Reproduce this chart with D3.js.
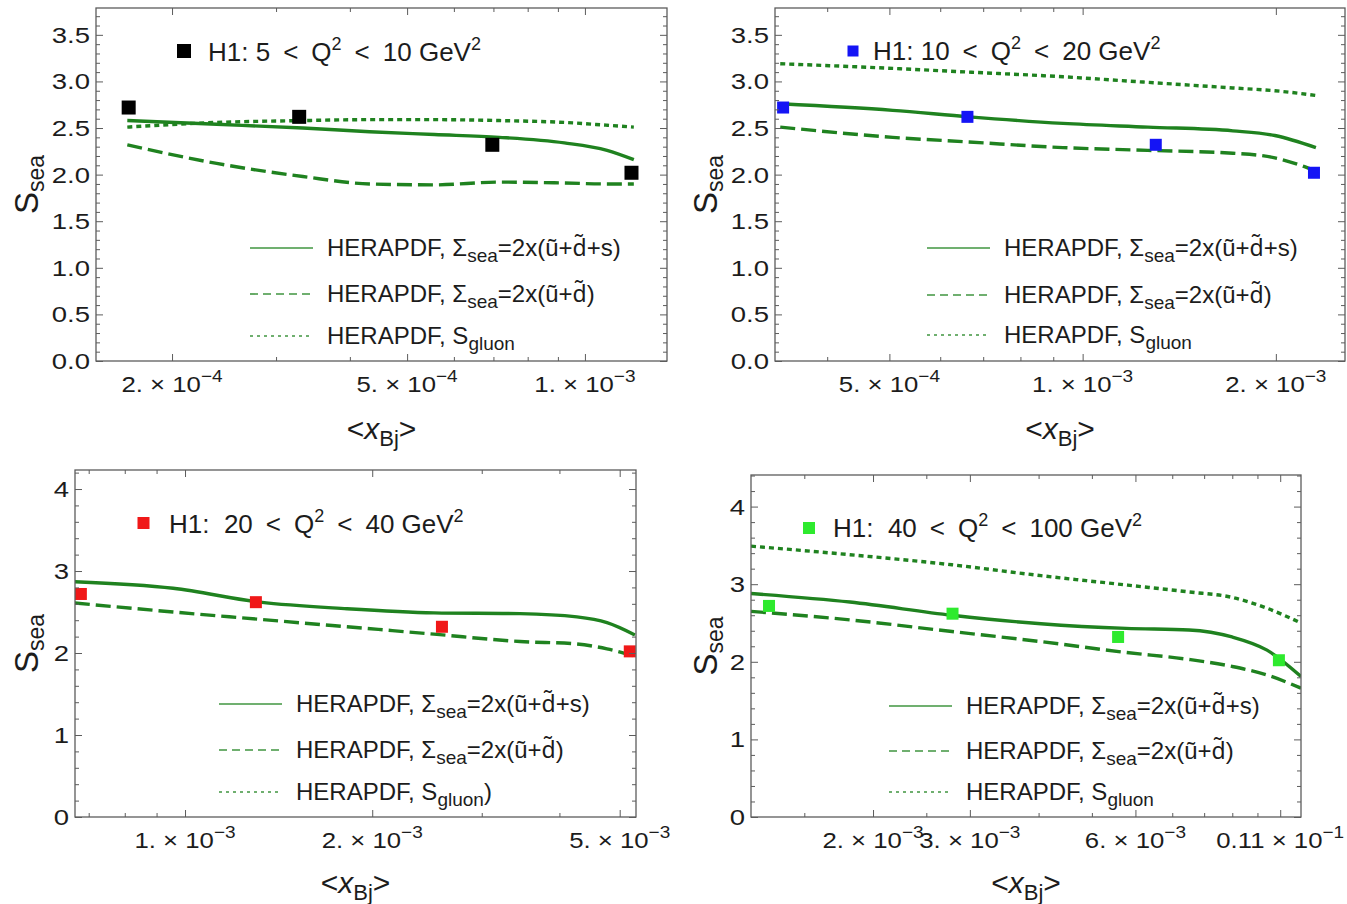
<!DOCTYPE html>
<html>
<head>
<meta charset="utf-8">
<script src="https://cdn.jsdelivr.net/npm/d3@7"></script>
<style>
  body { margin: 0; background: #fff; }
  svg { display: block; font-family: "Liberation Sans", Arial, Helvetica, sans-serif; }
  text { white-space: pre; }
</style>
</head>
<body>
<svg id="chart" width="1347" height="904"></svg>
<script>
// H1 points, same S_sea values in every Q^2 bin
const h1S = [2.72, 2.62, 2.32, 2.02];

// <x_Bj> of the H1 points, one array per Q^2 bin
const bin1X = [1.689e-4, 3.283e-4, 6.97e-4, 1.199e-3];
const bin2X = [3.415e-4, 6.615e-4, 1.300e-3, 2.293e-3];
const bin3X = [6.80e-4, 1.300e-3, 2.589e-3, 5.19e-3];
const bin4X = [1.294e-3, 2.79e-3, 5.58e-3, 1.094e-2];

// HERAPDF curves
const bin1CurveX = [1.68e-4, 2.38e-4, 3.33e-4, 4.32e-4, 5.56e-4, 7.16e-4, 9.23e-4, 1.09e-3, 1.21e-3];
const bin1Full   = [2.58, 2.54, 2.50, 2.46, 2.43, 2.40, 2.34, 2.26, 2.16];
const bin1Light  = [2.32, 2.12, 1.98, 1.90, 1.89, 1.92, 1.91, 1.90, 1.90];
const bin1Gluon  = [2.51, 2.56, 2.58, 2.59, 2.59, 2.58, 2.56, 2.53, 2.51];

const bin2CurveX = [3.38e-4, 5.06e-4, 6.65e-4, 9.32e-4, 1.264e-3, 1.714e-3, 1.993e-3, 2.309e-3];
const bin2Full   = [2.76, 2.69, 2.62, 2.55, 2.51, 2.47, 2.42, 2.29];
const bin2Light  = [2.51, 2.40, 2.35, 2.29, 2.26, 2.23, 2.18, 2.04];
const bin2Gluon  = [3.19, 3.14, 3.10, 3.05, 2.99, 2.93, 2.90, 2.85];

const bin3CurveX = [6.65e-4, 9.57e-4, 1.32e-3, 1.822e-3, 2.513e-3, 3.456e-3, 4.267e-3, 4.77e-3, 5.29e-3];
const bin3Full   = [2.87, 2.79, 2.62, 2.54, 2.49, 2.48, 2.44, 2.37, 2.22];
const bin3Light  = [2.61, 2.50, 2.41, 2.32, 2.23, 2.14, 2.11, 2.05, 1.96];

const bin4CurveX = [1.20e-3, 1.816e-3, 2.783e-3, 4.04e-3, 5.77e-3, 7.51e-3, 8.99e-3, 1.041e-2, 1.20e-2];
const bin4Full   = [2.88, 2.77, 2.60, 2.49, 2.43, 2.41, 2.32, 2.15, 1.81];
const bin4Light  = [2.65, 2.54, 2.39, 2.26, 2.12, 2.03, 1.94, 1.83, 1.66];
const bin4Gluon  = [3.49, 3.38, 3.25, 3.11, 2.99, 2.90, 2.83, 2.69, 2.50];

// x tick values and labels (mantissa, exponent) as printed
const bin1Ticks = [2e-4, 5e-4, 1e-3];
const bin1TickLabels = [['2.', '\u22124'], ['5.', '\u22124'], ['1.', '\u22123']];
const bin2Ticks = [5e-4, 1e-3, 2e-3];
const bin2TickLabels = [['5.', '\u22124'], ['1.', '\u22123'], ['2.', '\u22123']];
const bin3Ticks = [1e-3, 2e-3, 5e-3];
const bin3TickLabels = [['1.', '\u22123'], ['2.', '\u22123'], ['5.', '\u22123']];
const bin4Ticks = [2e-3, 3e-3, 6e-3, 1.1e-2];
const bin4TickLabels = [['2.', '\u22123'], ['3.', '\u22123'], ['6.', '\u22123'], ['0.11', '\u22121']];
const bin4MinorTicks = [1.5e-3, 2.5e-3, 4e-3, 5e-3, 7e-3, 8e-3, 9e-3, 1e-2];

// legend texts
const LT = '\u2002<\u2002';
const h1Labels = [
  [['H1: 5' + LT + 'Q'], ['2', 'sup'], [LT + '10 GeV'], ['2', 'sup']],
  [['H1: 10' + LT + 'Q'], ['2', 'sup'], [LT + '20 GeV'], ['2', 'sup']],
  [['H1:  20' + LT + 'Q'], ['2', 'sup'], [LT + '40 GeV'], ['2', 'sup']],
  [['H1:  40' + LT + 'Q'], ['2', 'sup'], [LT + '100 GeV'], ['2', 'sup']]
];
const labelFull  = [['HERAPDF, \u03a3'], ['sea', 'sub'], ['=2x(\u0169+'], ['d\u0303', 'mark'], ['+s)']];
const labelLight = [['HERAPDF, \u03a3'], ['sea', 'sub'], ['=2x(\u0169+'], ['d\u0303', 'mark'], [')']];
const labelGluon = [['HERAPDF, S'], ['gluon', 'sub']];
const labelGluonParen = [['HERAPDF, S'], ['gluon', 'sub'], [')']];

const GREEN = '#1f821f';
const FRAME = '#5c5c5c';
const INK = '#1c1c1c';

const styles = {
  full:  { plot: null,   legend: null,  wPlot: 3.4, wLegend: 1.6 },
  light: { plot: '15,6', legend: '8,5', wPlot: 3.4, wLegend: 1.6 },
  gluon: { plot: '5,4',  legend: '3,4', wPlot: 3.4, wLegend: 1.6 }
};

const panels = [
  { id: 1, left: 96, right: 667, top: 8, bottom: 361, xDomain: [1.487e-4, 1.377e-3], yMax: 3.788,
    yStep: 0.5, yMinor: 0.1, yFmt: '.1f',
    pointX: bin1X, color: '#000000', marker: 14, legendMarker: 14,
    curveX: bin1CurveX, curves: [['full', bin1Full], ['light', bin1Light], ['gluon', bin1Gluon]],
    ticks: bin1Ticks, tickLabels: bin1TickLabels, minor: null,
    h1: h1Labels[0], h1Pos: [184, 51, 208, 61],
    legend: [['full', labelFull], ['light', labelLight], ['gluon', labelGluon]],
    legendX: 250, legendY: [248, 294, 336], yLabelX: 38, xLabelY: 439 },
  { id: 2, left: 775, right: 1345, top: 8, bottom: 361, xDomain: [3.317e-4, 2.563e-3], yMax: 3.788,
    yStep: 0.5, yMinor: 0.1, yFmt: '.1f',
    pointX: bin2X, color: '#1414f5', marker: 12, legendMarker: 11,
    curveX: bin2CurveX, curves: [['full', bin2Full], ['light', bin2Light], ['gluon', bin2Gluon]],
    ticks: bin2Ticks, tickLabels: bin2TickLabels, minor: null,
    h1: h1Labels[1], h1Pos: [853, 51, 873, 60],
    legend: [['full', labelFull], ['light', labelLight], ['gluon', labelGluon]],
    legendX: 927, legendY: [248, 295, 335], yLabelX: 717, xLabelY: 439 },
  { id: 3, left: 75, right: 636, top: 470, bottom: 817, xDomain: [6.654e-4, 5.311e-3], yMax: 4.232,
    yStep: 1, yMinor: 0.2, yFmt: 'd',
    pointX: bin3X, color: '#f01818', marker: 12, legendMarker: 12,
    curveX: bin3CurveX, curves: [['full', bin3Full], ['light', bin3Light]],
    ticks: bin3Ticks, tickLabels: bin3TickLabels, minor: null,
    h1: h1Labels[2], h1Pos: [143.5, 523, 169, 533],
    legend: [['full', labelFull], ['light', labelLight], ['gluon', labelGluonParen]],
    legendX: 219, legendY: [704, 750, 792], yLabelX: 38, xLabelY: 893 },
  { id: 4, left: 751, right: 1301, top: 475, bottom: 817, xDomain: [1.20e-3, 1.20e-2], yMax: 4.407,
    yStep: 1, yMinor: 0.2, yFmt: 'd',
    pointX: bin4X, color: '#2eea2e', marker: 12, legendMarker: 12,
    curveX: bin4CurveX, curves: [['full', bin4Full], ['light', bin4Light], ['gluon', bin4Gluon]],
    ticks: bin4Ticks, tickLabels: bin4TickLabels, minor: bin4MinorTicks,
    h1: h1Labels[3], h1Pos: [809, 528, 833, 537],
    legend: [['full', labelFull], ['light', labelLight], ['gluon', labelGluon]],
    legendX: 889, legendY: [706, 751, 792], yLabelX: 717, xLabelY: 893 }
];

const svg = d3.select('#chart');

// text with sub/superscript pieces; 'mark' uses a font that places combining accents
const rich = (sel, parts, size, subSize, shifts) => {
  let prev = 0;
  parts.forEach(([t, kind]) => {
    const shift = kind === 'sup' ? shifts[0] : kind === 'sub' ? shifts[1] : 0;
    const ts = sel.append('tspan')
      .attr('dy', shift - prev)
      .attr('font-size', kind === 'sup' || kind === 'sub' ? subSize : size)
      .text(t);
    if (kind === 'mark') ts.attr('font-family', '"Noto Sans", "DejaVu Sans", sans-serif').attr('font-size', size - 1);
    prev = shift;
  });
};

// standard log minor ticks inside the domain
const logMinor = (dom, majors) => {
  const out = [];
  for (let e = -5; e <= -1; e++) {
    for (let m = 1; m <= 9; m++) {
      const v = m * Math.pow(10, e);
      if (v > dom[0] && v < dom[1] && !majors.some(t => Math.abs(t - v) / v < 1e-6)) out.push(v);
    }
  }
  return out;
};

const drawPanel = p => {
  const g = svg.append('g');
  const x = d3.scaleLog().domain(p.xDomain).range([p.left, p.right]);
  const y = d3.scaleLinear().domain([0, p.yMax]).range([p.bottom, p.top]);

  g.append('clipPath').attr('id', 'clip' + p.id)
    .append('rect')
    .attr('x', p.left).attr('y', p.top)
    .attr('width', p.right - p.left).attr('height', p.bottom - p.top);

  const line = d3.line()
    .x(d => x(d[0]))
    .y(d => y(d[1]))
    .curve(d3.curveMonotoneX);

  const plot = g.append('g').attr('clip-path', `url(#clip${p.id})`);

  p.curves.forEach(([kind, values]) => {
    plot.append('path')
      .datum(d3.zip(p.curveX, values))
      .attr('fill', 'none')
      .attr('stroke', GREEN)
      .attr('stroke-width', styles[kind].wPlot)
      .attr('stroke-dasharray', styles[kind].plot)
      .attr('d', line);
  });

  plot.selectAll('rect.pt')
    .data(d3.zip(p.pointX, h1S))
    .join('rect')
    .attr('class', 'pt')
    .attr('x', d => x(d[0]) - p.marker / 2)
    .attr('y', d => y(d[1]) - p.marker / 2)
    .attr('width', p.marker)
    .attr('height', p.marker)
    .attr('fill', p.color);

  // frame ticks on all four sides, pointing inward
  const yMajor = d3.range(0, Math.floor(p.yMax / p.yStep) + 1).map(i => i * p.yStep);
  const nMinor = Math.round(p.yStep / p.yMinor);
  const yMinorVals = d3.range(0, Math.floor(p.yMax / p.yMinor) + 1)
    .filter(i => i % nMinor !== 0)
    .map(i => i * p.yMinor);
  const xMinorVals = p.minor || logMinor(p.xDomain, p.ticks);

  const tickSet = (axisFn, scale, values, size, tr) => {
    g.append('g')
      .attr('transform', tr)
      .call(axisFn(scale).tickValues(values).tickSize(-size).tickFormat(''))
      .call(a => a.select('.domain').remove())
      .selectAll('line')
      .attr('stroke', FRAME)
      .attr('stroke-width', 1);
  };
  tickSet(d3.axisBottom, x, p.ticks, 7, `translate(0,${p.bottom})`);
  tickSet(d3.axisBottom, x, xMinorVals, 4, `translate(0,${p.bottom})`);
  tickSet(d3.axisTop, x, p.ticks, 7, `translate(0,${p.top})`);
  tickSet(d3.axisTop, x, xMinorVals, 4, `translate(0,${p.top})`);
  tickSet(d3.axisLeft, y, yMajor, 7, `translate(${p.left},0)`);
  tickSet(d3.axisLeft, y, yMinorVals, 4, `translate(${p.left},0)`);
  tickSet(d3.axisRight, y, yMajor, 7, `translate(${p.right},0)`);
  tickSet(d3.axisRight, y, yMinorVals, 4, `translate(${p.right},0)`);

  g.append('rect')
    .attr('x', p.left).attr('y', p.top)
    .attr('width', p.right - p.left).attr('height', p.bottom - p.top)
    .attr('fill', 'none')
    .attr('stroke', FRAME)
    .attr('stroke-width', 1.3);

  // y tick labels (the original glyphs are drawn wide)
  const fmt = d3.format(p.yFmt);
  g.selectAll('text.ylab')
    .data(yMajor)
    .join('text')
    .attr('class', 'ylab')
    .attr('transform', d => `translate(${p.left - 6},${y(d) + 8}) scale(1.25,1)`)
    .attr('text-anchor', 'end')
    .attr('font-size', 22)
    .attr('fill', INK)
    .text(d => fmt(d));

  // x tick labels  "m × 10^e"
  p.ticks.forEach((t, i) => {
    const [mant, ex] = p.tickLabels[i];
    const txt = g.append('text')
      .attr('transform', `translate(${x(t)},${p.bottom + 31}) scale(1.12,1)`)
      .attr('text-anchor', 'middle')
      .attr('fill', INK);
    rich(txt, [[mant + ' \u00d7 10'], [ex, 'sup']], 23, 17, [-10, 0]);
  });

  // axis titles
  const yt = g.append('text')
    .attr('transform', `translate(${p.yLabelX},${(p.top + p.bottom) / 2}) rotate(-90)`)
    .attr('text-anchor', 'middle')
    .attr('fill', INK);
  rich(yt, [['S'], ['sea', 'sub']], 33, 23, [0, 6]);

  const xt = g.append('text')
    .attr('x', (p.left + p.right) / 2)
    .attr('y', p.xLabelY)
    .attr('text-anchor', 'middle')
    .attr('font-size', 30)
    .attr('fill', INK);
  xt.append('tspan').text('<');
  xt.append('tspan').attr('font-style', 'italic').text('x');
  xt.append('tspan').attr('font-size', 22).attr('dy', 7).text('Bj');
  xt.append('tspan').attr('dy', -7).text('>');

  // H1 legend entry
  const [mx, my, tx, ty] = p.h1Pos;
  g.append('rect')
    .attr('x', mx - p.legendMarker / 2).attr('y', my - p.legendMarker / 2)
    .attr('width', p.legendMarker).attr('height', p.legendMarker)
    .attr('fill', p.color);
  const h1t = g.append('text').attr('x', tx).attr('y', ty).attr('fill', INK);
  rich(h1t, p.h1, 26, 18, [-11, 6]);

  // curve legend
  p.legend.forEach(([kind, parts], i) => {
    const ly = p.legendY[i];
    g.append('line')
      .attr('x1', p.legendX).attr('x2', p.legendX + 63)
      .attr('y1', ly).attr('y2', ly)
      .attr('stroke', GREEN)
      .attr('stroke-opacity', 0.85)
      .attr('stroke-width', styles[kind].wLegend)
      .attr('stroke-dasharray', styles[kind].legend);
    const lt = g.append('text')
      .attr('x', p.legendX + 77)
      .attr('y', ly + 8)
      .attr('fill', INK);
    rich(lt, parts, 24, 19, [-10, 6]);
  });
};

panels.forEach(drawPanel);
</script>
</body>
</html>
